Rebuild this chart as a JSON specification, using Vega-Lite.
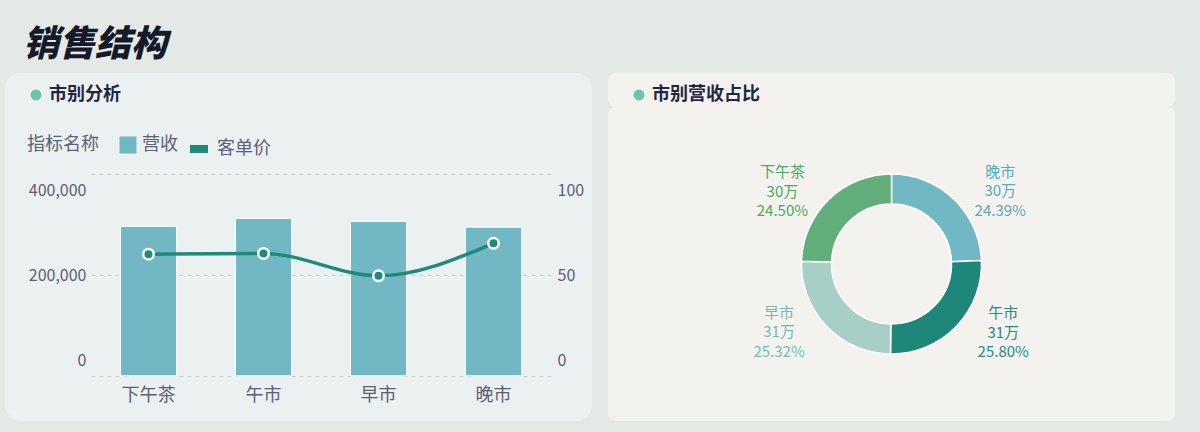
{
  "$schema": "https://vega.github.io/schema/vega-lite/v6.json",
  "background": "#e4e9e6",
  "padding": {"left": 5, "top": 27, "right": 25, "bottom": 12},
  "config": {
    "view": {"stroke": null},
    "font": "Noto Sans CJK SC",
    "axis": {"labelFont": "Noto Sans CJK SC", "labelColor": "#5b6078", "domain": false, "ticks": false, "title": null},
    "legend": {"labelFont": "Noto Sans CJK SC", "titleFont": "Noto Sans CJK SC"}
  },
  "title": {
    "text": "销售结构",
    "anchor": "start",
    "frame": "group",
    "dx": 18,
    "offset": 9,
    "font": "Noto Sans CJK SC",
    "fontSize": 36,
    "fontWeight": 900,
    "fontStyle": "italic",
    "color": "#141a2a"
  },
  "data": {
    "values": [
      {"market": "晚市", "revenue": 295100, "price": 65.7, "pct": 24.39},
      {"market": "午市", "revenue": 312200, "price": 60.7, "pct": 25.80},
      {"market": "早市", "revenue": 306400, "price": 49.6, "pct": 25.32},
      {"market": "下午茶", "revenue": 296500, "price": 60.3, "pct": 24.50}
    ]
  },
  "spacing": 16,
  "resolve": {
    "scale": {"fill": "independent", "stroke": "independent", "color": "independent", "opacity": "independent"},
    "legend": {"fill": "independent", "stroke": "independent", "color": "independent", "opacity": "independent"}
  },
  "hconcat": [
    {
      "width": 587,
      "height": 348,
      "view": {"fill": "#ebf1f0", "cornerRadius": 16, "stroke": null},
      "encoding": {
        "x": {
          "field": "market",
          "type": "nominal",
          "sort": ["下午茶", "午市", "早市", "晚市"],
          "scale": {"range": [86, 546], "paddingInner": 0.51, "paddingOuter": 0.255},
          "axis": {"orient": "bottom", "offset": -45, "labelPadding": 10, "labelFontSize": 18, "labelAngle": 0, "grid": false}
        }
      },
      "layer": [
        {
          "mark": {"type": "bar", "stroke": "#ffffff", "strokeWidth": 1, "cornerRadiusTopLeft": 2, "cornerRadiusTopRight": 2},
          "encoding": {
            "y": {
              "field": "revenue",
              "type": "quantitative",
              "scale": {"domain": [0, 400000], "range": [303, 101], "nice": false},
              "axis": {
                "orient": "left",
                "offset": -86,
                "values": [0, 200000, 400000],
                "format": ",.0f",
                "grid": true,
                "gridDash": [4, 4],
                "gridColor": "#c3cccd",
                "labelPadding": 5,
                "labelFontSize": 16,
                "labelFlush": true,
                "labelFlushOffset": -8
              }
            },
            "fill": {
              "datum": "营收",
              "type": "nominal",
              "scale": {"range": ["#71b8c4"]},
              "legend": {
                "orient": "none",
                "legendX": 22,
                "legendY": 63,
                "title": "指标名称",
                "titleOrient": "left",
                "titleFontSize": 18,
                "titleFontWeight": "normal",
                "titleColor": "#5b6078",
                "titlePadding": 20,
                "symbolType": "square",
                "symbolSize": 289,
                "symbolStrokeWidth": 0,
                "labelFontSize": 18,
                "labelColor": "#5b6078",
                "labelOffset": 5
              }
            }
          }
        },
        {
          "layer": [
            {
              "mark": {"type": "line", "interpolate": "monotone", "strokeWidth": 3.5},
              "encoding": {
                "y": {
                  "field": "price",
                  "type": "quantitative",
                  "scale": {"domain": [0, 100], "range": [303, 101], "nice": false},
                  "axis": {
                    "orient": "right",
                    "offset": -41,
                    "values": [0, 50, 100],
                    "grid": false,
                    "labelPadding": 6,
                    "labelFontSize": 16,
                    "labelFlush": true,
                    "labelFlushOffset": -8
                  }
                },
                "stroke": {
                  "datum": "客单价",
                  "type": "nominal",
                  "scale": {"range": ["#1f8a7a"]},
                  "legend": {
                    "orient": "none",
                    "legendX": 181,
                    "legendY": 63,
                    "title": null,
                    "symbolType": "stroke",
                    "symbolSize": 324,
                    "symbolStrokeWidth": 8,
                    "labelFontSize": 18,
                    "labelColor": "#5b6078",
                    "labelOffset": 5
                  }
                }
              }
            },
            {
              "mark": {"type": "point", "filled": true, "size": 110, "fill": "#1f8a7a", "stroke": "#ffffff", "strokeWidth": 2.5, "opacity": 1},
              "encoding": {
                "y": {"field": "price", "type": "quantitative"}
              }
            }
          ]
        },
        {
          "data": {"values": []},
          "mark": {"type": "point", "filled": true, "fill": "#6cc5a8", "stroke": "#bfe6d9", "strokeWidth": 3},
          "encoding": {
            "opacity": {
              "datum": "市别分析",
              "type": "nominal",
              "scale": {"range": [1]},
              "legend": {
                "orient": "none",
                "legendX": 22,
                "legendY": 13,
                "title": null,
                "symbolType": "circle",
                "symbolSize": 120,
                "symbolStrokeColor": "#c4e8dc",
                "symbolStrokeWidth": 2,
                "labelFontSize": 18,
                "labelFontWeight": "bold",
                "labelColor": "#1f2744",
                "labelOffset": 4
              }
            }
          }
        }
      ],
      "resolve": {"scale": {"y": "independent"}}
    },
    {
      "spacing": 0,
      "vconcat": [
        {
          "width": 567,
          "height": 34,
          "data": {"values": []},
          "mark": {"type": "point", "filled": true, "fill": "#6cc5a8", "stroke": "#bfe6d9", "strokeWidth": 3},
          "encoding": {
            "opacity": {
              "datum": "市别营收占比",
              "type": "nominal",
              "scale": {"range": [1]},
              "legend": {
                "orient": "none",
                "legendX": 22,
                "legendY": 13,
                "title": null,
                "symbolType": "circle",
                "symbolSize": 120,
                "symbolStrokeColor": "#c4e8dc",
                "symbolStrokeWidth": 2,
                "labelFontSize": 18,
                "labelFontWeight": "bold",
                "labelColor": "#1f2744",
                "labelOffset": 4
              }
            }
          },
          "view": {"fill": "#f4f2ef", "cornerRadius": 8, "stroke": null}
        },
        {
          "width": 567,
          "height": 314,
          "view": {"fill": "#f4f2ef", "cornerRadius": 8, "stroke": null},
          "transform": [
            {"window": [{"op": "row_number", "as": "i"}]},
            {"joinaggregate": [{"op": "sum", "field": "revenue", "as": "total"}]},
            {"calculate": "datum.market + '\\n' + format(datum.revenue / 10000, '.0f') + '万\\n' + format(datum.pct, '.2f') + '%'", "as": "label"}
          ],
          "encoding": {
            "theta": {"field": "revenue", "type": "quantitative", "stack": true},
            "order": {"field": "i", "type": "quantitative"}
          },
          "layer": [
            {
              "mark": {"type": "arc", "innerRadius": 60, "outerRadius": 90, "stroke": "#ffffff", "strokeWidth": 1.5},
              "encoding": {
                "fill": {
                  "field": "market",
                  "type": "nominal",
                  "scale": {"domain": ["晚市", "午市", "早市", "下午茶"], "range": ["#71b8c4", "#1f877a", "#a7cfc6", "#62ae7a"]},
                  "legend": null
                }
              }
            },
            {
              "mark": {
                "type": "text",
                "radius": 128,
                "lineBreak": "\n",
                "lineHeight": 19.5,
                "fontSize": 15,
                "font": "Noto Sans CJK SC",
                "align": "center",
                "baseline": "middle",
                "dx": {"expr": "(datum.revenue_start + datum.revenue_end) / 2 < datum.total / 2 ? 20 : -20"},
                "dy": {"expr": "abs((datum.revenue_start + datum.revenue_end) / 2 - datum.total / 2) > datum.total / 4 ? 0 : -40"}
              },
              "encoding": {
                "text": {"field": "label"},
                "color": {
                  "field": "market",
                  "type": "nominal",
                  "scale": {"domain": ["晚市", "午市", "早市", "下午茶"], "range": ["#55abb9", "#2a8a7c", "#72bda9", "#4ea566"]},
                  "legend": null
                }
              }
            }
          ]
        }
      ]
    }
  ]
}
